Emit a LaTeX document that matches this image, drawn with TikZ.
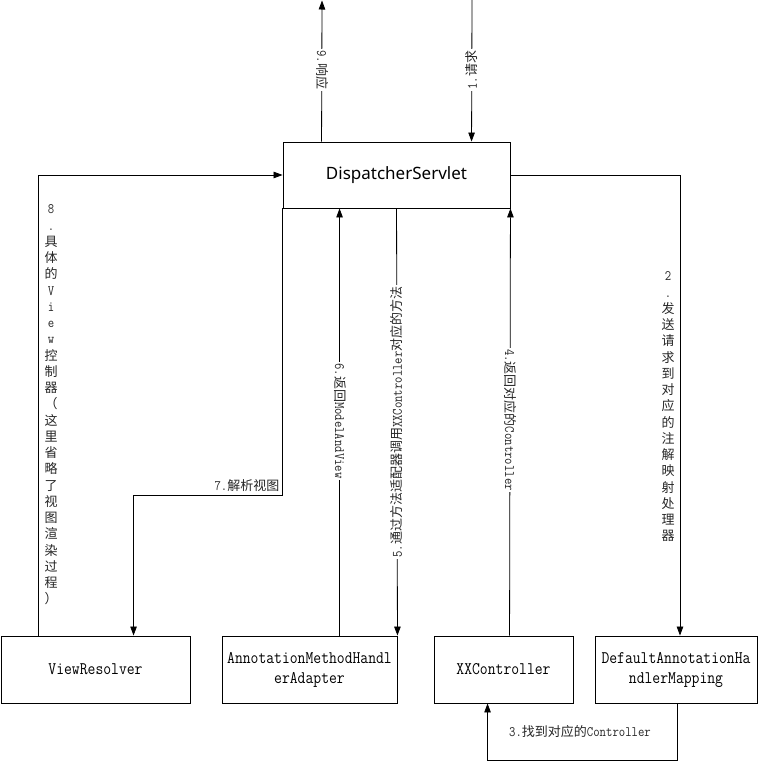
\documentclass[tikz,border=0pt]{standalone}
\usepackage{fontspec}
\newfontfamily\cjk{Noto Sans CJK SC}
\newfontfamily\mono[FakeStretch=0.86]{Latin Modern Mono}
\newfontfamily\dsfont{Noto Sans}
\usetikzlibrary{arrows.meta,calc}
\newcommand\M[1]{{\mono\fontsize{14.4}{16}\selectfont #1}}
\tikzset{
  box/.style={draw=black, line width=0.9pt, rectangle, inner sep=0pt,
    font=\mono\fontsize{17.7}{20}\selectfont, align=center},
  conn/.style={draw=black, line width=0.8pt},
  arr/.style={conn, -{Triangle[length=9pt,width=6.5pt]}},
  lab/.style={font=\cjk\fontsize{13}{16}\selectfont, text=black!85, inner sep=1.5pt},
  onl/.style={lab, fill=white},
  stack/.style={lab, align=center, font=\cjk\fontsize{13}{16.25}\selectfont}
}
\begin{document}
\begin{tikzpicture}[x=1pt,y=-1pt]
\useasboundingbox (0,0) rectangle (758,761);
% nodes
\node[box, minimum width=227pt, minimum height=66pt, font=\dsfont\fontsize{17}{20}\selectfont] (ds) at (396.5,175) {DispatcherServlet};
\node[box, minimum width=189pt, minimum height=67pt] (vr) at (95.5,669.5) {ViewResolver};
\node[box, minimum width=175pt, minimum height=67pt] (am) at (309.5,669.5) {AnnotationMethodHandl\\erAdapter};
\node[box, minimum width=139pt, minimum height=67pt] (xx) at (503.5,669.5) {XXController};
\node[box, minimum width=162pt, minimum height=67pt] (dm) at (676,669.5) {DefaultAnnotationHa\\ndlerMapping};
\coordinate (top9) at (322,0.5);
\coordinate (top1) at (472,0);
% 9 response
\draw[arr] ($(ds.north west)+(39,0)$) -- (top9);
\node[onl, rotate=-90] (l9) at (322,70) {\M{9.}响应};
% 1 request
\draw[arr] (top1) -- ($(ds.north west)+(189,0)$);
\node[onl, rotate=90] (l1) at (472,70) {\M{1.}请求};
% 8
\draw[arr] ($(vr.north west)+(38,0)$) |- (ds.west);
\node[stack] (l8) at (51,405) {\M{8}\\\M{.}\\具\\体\\的\\\M{V}\\\M{i}\\\M{e}\\\M{w}\\控\\制\\器\\（\\这\\里\\省\\略\\了\\视\\图\\渲\\染\\过\\程\\）};
% 2
\draw[arr] (ds.east) -| ($(dm.north)+(4,0)$);
\node[stack] (l2) at (668,407) {\M{2}\\\M{.}\\发\\送\\请\\求\\到\\对\\应\\的\\注\\解\\映\\射\\处\\理\\器};
% 7
\draw[arr] (ds.south west) |- ($(vr.north west)+(133,-140)$) -- ($(vr.north west)+(133,0)$);
\node[lab, anchor=east] (l7) at (281,486) {\M{7.}解析视图};
% 6
\draw[arr] ($(am.north west)+(118,0)$) -- ($(ds.south west)+(57,0)$);
\node[onl, rotate=-90] (l6) at (340,421) {\M{6.}返回\M{ModelAndView}};
% 5
\draw[arr] ($(ds.south west)+(114,0)$) -- (am.north east);
\node[onl, rotate=90] (l5) at (397,422) {\M{5.}通过方法适配器调用\M{XXController}对应的方法};
% 4
\draw[arr] ($(xx.north west)+(76,0)$) -- (ds.south east);
\node[onl, rotate=-90] (l4) at (510,420) {\M{4.}返回对应的\M{Controller}};
% 3
\draw[arr] ($(dm.south)+(1,0)$) |- ($(xx.south west)+(54,57)$) -- ($(xx.south west)+(54,0)$);
\node[lab] (l3) at (580,732) {\M{3.}找到对应的\M{Controller}};
\end{tikzpicture}
\end{document}
